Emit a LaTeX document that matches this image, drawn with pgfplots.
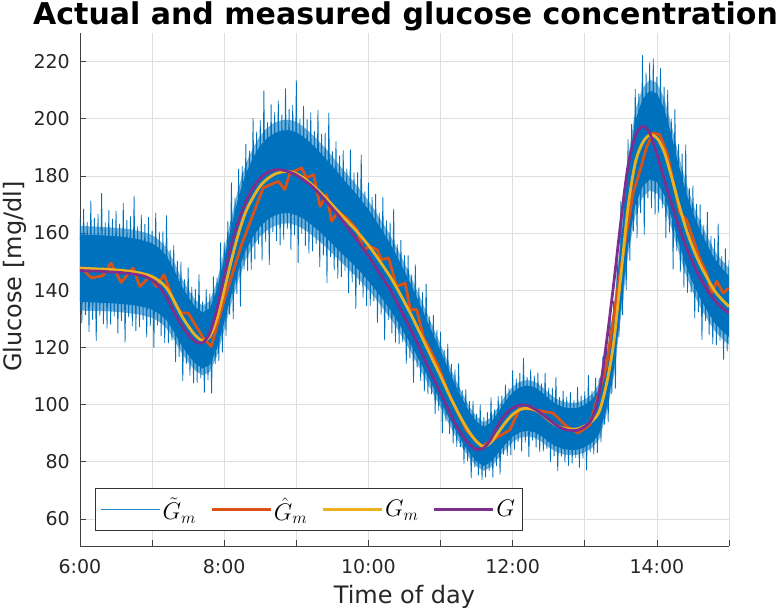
\RequirePackage{fix-cm}
\documentclass[border=0pt]{standalone}
\usepackage{fontspec}
\setmainfont{DejaVu Sans}
\usepackage{pgfplots}
\usepackage{pgfplotstable}
\pgfplotsset{compat=1.18}

\definecolor{mblue}{HTML}{0072BD}
\definecolor{morange}{HTML}{D95319}
\definecolor{myellow}{HTML}{EDB120}
\definecolor{mpurple}{HTML}{7E2F8E}
\definecolor{mtext}{HTML}{262626}

% measured signal, outer fringe (upper edge, then lower edge back)
\pgfplotstableread{
t g
6.0 162.5
6.1 162.4
6.2 162.3
6.3 162.1
6.4 162.0
6.5 161.8
6.6 161.6
6.7 161.3
6.8 160.8
6.9 160.2
7.0 159.3
7.1 157.5
7.2 154.9
7.3 150.2
7.4 144.7
7.5 140.3
7.6 136.6
7.7 134.6
7.8 136.2
7.9 143.0
8.0 154.0
8.1 165.6
8.2 176.0
8.3 184.3
8.4 189.8
8.5 194.2
8.6 196.9
8.7 198.7
8.8 199.5
8.9 199.7
9.0 198.9
9.1 197.2
9.2 195.0
9.3 192.5
9.4 189.8
9.5 186.8
9.6 183.7
9.7 180.7
9.8 177.9
9.9 174.7
10.0 171.3
10.1 167.5
10.2 163.5
10.3 159.3
10.4 154.6
10.5 149.4
10.6 144.1
10.7 138.4
10.8 132.6
10.9 126.7
11.0 121.0
11.1 115.0
11.2 109.2
11.3 104.0
11.4 99.3
11.5 95.7
11.6 93.8
11.7 95.5
11.8 99.2
11.9 103.1
12.0 106.2
12.1 108.0
12.2 108.6
12.3 108.0
12.4 106.4
12.5 104.0
12.6 102.1
12.7 101.0
12.8 100.5
12.9 100.7
13.0 101.8
13.1 103.6
13.2 107.3
13.3 117.7
13.4 133.7
13.5 159.5
13.6 185.9
13.7 203.0
13.8 210.7
13.9 213.7
14.0 212.6
14.1 207.4
14.2 198.0
14.3 187.6
14.4 178.0
14.5 170.3
14.6 163.9
14.7 158.6
14.8 153.8
14.9 150.5
15.0 147.7
15.0 120.9
14.9 123.1
14.8 125.8
14.7 129.8
14.6 134.1
14.5 139.3
14.4 145.6
14.3 153.5
14.2 162.0
14.1 169.7
14.0 174.0
13.9 174.9
13.8 172.4
13.7 166.0
13.6 152.1
13.5 130.5
13.4 109.4
13.3 96.3
13.2 87.8
13.1 84.8
13.0 83.3
12.9 82.4
12.8 82.3
12.7 82.6
12.6 83.5
12.5 85.0
12.4 87.0
12.3 88.4
12.2 88.8
12.1 88.4
12.0 86.9
11.9 84.3
11.8 81.2
11.7 78.1
11.6 76.8
11.5 78.3
11.4 81.3
11.3 85.0
11.2 89.4
11.1 94.0
11.0 99.0
10.9 103.7
10.8 108.5
10.7 113.2
10.6 117.9
10.5 122.2
10.4 126.5
10.3 130.3
10.2 133.7
10.1 137.1
10.0 140.1
9.9 142.9
9.8 145.5
9.7 147.9
9.6 150.3
9.5 152.8
9.4 155.3
9.3 157.5
9.2 159.6
9.1 161.4
9.0 162.7
8.9 163.4
8.8 163.3
8.7 162.5
8.6 161.1
8.5 158.9
8.4 155.3
8.3 150.8
8.2 144.0
8.1 135.5
8.0 126.0
7.9 117.0
7.8 111.4
7.7 110.2
7.6 111.8
7.5 114.8
7.4 118.4
7.3 122.9
7.2 126.7
7.1 128.9
7.0 130.3
6.9 131.0
6.8 131.6
6.7 131.9
6.6 132.2
6.5 132.4
6.4 132.6
6.3 132.7
6.2 132.8
6.1 132.8
6.0 132.9
}\fringetab

% measured signal, dense core (upper edge, then lower edge back)
\pgfplotstableread{
t g
6.0 159.5
6.1 159.4
6.2 159.3
6.3 159.2
6.4 159.1
6.5 158.9
6.6 158.7
6.7 158.3
6.8 157.9
6.9 157.2
7.0 156.4
7.1 154.7
7.2 152.1
7.3 147.4
7.4 142.0
7.5 137.7
7.6 134.1
7.7 132.2
7.8 133.7
7.9 140.4
8.0 151.2
8.1 162.5
8.2 172.8
8.3 180.9
8.4 186.3
8.5 190.6
8.6 193.3
8.7 195.0
8.8 195.9
8.9 196.0
9.0 195.3
9.1 193.6
9.2 191.5
9.3 189.0
9.4 186.3
9.5 183.4
9.6 180.4
9.7 177.4
9.8 174.6
9.9 171.5
10.0 168.2
10.1 164.5
10.2 160.5
10.3 156.4
10.4 151.7
10.5 146.7
10.6 141.5
10.7 135.9
10.8 130.1
10.9 124.4
11.0 118.8
11.1 112.9
11.2 107.2
11.3 102.1
11.4 97.5
11.5 94.0
11.6 92.1
11.7 93.7
11.8 97.4
11.9 101.2
12.0 104.2
12.1 106.1
12.2 106.6
12.3 106.1
12.4 104.4
12.5 102.1
12.6 100.2
12.7 99.1
12.8 98.7
12.9 98.8
13.0 99.9
13.1 101.7
13.2 105.3
13.3 115.6
13.4 131.2
13.5 156.6
13.6 182.5
13.7 199.3
13.8 206.8
13.9 209.8
14.0 208.8
14.1 203.6
14.2 194.4
14.3 184.1
14.4 174.7
14.5 167.2
14.6 160.9
14.7 155.7
14.8 151.0
14.9 147.7
15.0 145.0
15.0 123.6
14.9 125.9
14.8 128.6
14.7 132.7
14.6 137.1
14.5 142.4
14.4 148.9
14.3 156.9
14.2 165.6
14.1 173.4
14.0 177.8
13.9 178.8
13.8 176.2
13.7 169.7
13.6 155.5
13.5 133.4
13.4 111.8
13.3 98.4
13.2 89.7
13.1 86.7
13.0 85.1
12.9 84.2
12.8 84.1
12.7 84.5
12.6 85.4
12.5 86.9
12.4 89.0
12.3 90.3
12.2 90.8
12.1 90.3
12.0 88.8
11.9 86.2
11.8 83.0
11.7 79.9
11.6 78.5
11.5 80.0
11.4 83.1
11.3 86.9
11.2 91.4
11.1 96.1
11.0 101.2
10.9 106.0
10.8 110.9
10.7 115.7
10.6 120.5
10.5 124.9
10.4 129.3
10.3 133.2
10.2 136.7
10.1 140.1
10.0 143.2
9.9 146.1
9.8 148.8
9.7 151.2
9.6 153.6
9.5 156.2
9.4 158.7
9.3 161.0
9.2 163.1
9.1 165.0
9.0 166.3
8.9 167.0
8.8 166.9
8.7 166.2
8.6 164.7
8.5 162.4
8.4 158.7
8.3 154.1
8.2 147.2
8.1 138.5
8.0 128.8
7.9 119.6
7.8 113.9
7.7 112.6
7.6 114.3
7.5 117.3
7.4 121.0
7.3 125.6
7.2 129.5
7.1 131.7
7.0 133.2
6.9 134.0
6.8 134.5
6.7 134.9
6.6 135.1
6.5 135.3
6.4 135.5
6.3 135.6
6.2 135.7
6.1 135.8
6.0 135.9
}\coretab

% measured signal extremes (noise spikes)
\pgfplotstableread{
t g
6.000 165.4
6.025 128.5
6.050 168.4
6.075 131.4
6.100 163.8
6.125 125.5
6.150 171.2
6.175 129.8
6.200 165.2
6.225 122.4
6.250 166.6
6.275 131.2
6.300 173.9
6.325 128.2
6.350 163.6
6.375 126.7
6.400 167.9
6.425 128.1
6.450 164.9
6.475 131.0
6.500 167.7
6.525 125.0
6.550 163.2
6.575 129.3
6.600 170.4
6.625 121.8
6.650 164.4
6.675 130.6
6.700 165.7
6.725 127.5
6.750 172.8
6.775 125.8
6.800 162.3
6.825 127.1
6.850 166.3
6.875 129.7
6.900 163.1
6.925 123.6
6.950 165.5
6.975 127.6
7.000 160.7
7.025 119.9
7.050 167.0
7.075 127.8
7.100 160.4
7.125 124.1
7.150 160.5
7.175 121.6
7.200 166.1
7.225 121.5
7.250 153.9
7.275 122.5
7.300 155.6
7.325 115.0
7.350 150.1
7.375 116.8
7.400 149.9
7.425 108.3
7.450 143.7
7.475 114.4
7.500 147.9
7.525 110.2
7.550 141.0
7.575 107.5
7.600 140.3
7.625 107.7
7.650 145.5
7.675 109.3
7.700 135.9
7.725 104.3
7.750 140.3
7.775 108.6
7.800 138.7
7.825 104.0
7.850 144.7
7.875 114.3
7.900 144.3
7.925 115.3
7.950 156.6
7.975 118.3
8.000 156.8
8.025 124.1
8.050 164.1
8.075 131.6
8.100 177.6
8.125 130.0
8.150 172.3
8.175 138.7
8.200 182.4
8.225 134.4
8.250 183.4
8.275 147.4
8.300 191.0
8.325 146.8
8.350 188.7
8.375 147.3
8.400 200.1
8.425 150.9
8.450 195.4
8.475 156.2
8.500 199.4
8.525 150.5
8.550 209.7
8.575 157.0
8.600 198.7
8.625 148.9
8.650 205.0
8.675 160.4
8.700 202.3
8.725 157.3
8.750 206.3
8.775 155.8
8.800 201.4
8.825 157.8
8.850 210.5
8.875 161.5
8.900 203.3
8.925 154.1
8.950 204.7
8.975 159.3
9.000 213.3
9.025 149.7
9.050 199.9
9.075 159.9
9.100 204.4
9.125 155.6
9.150 199.7
9.175 152.9
9.200 202.1
9.225 153.7
9.250 195.5
9.275 156.3
9.300 203.0
9.325 148.2
9.350 194.6
9.375 152.3
9.400 194.9
9.425 142.6
9.450 202.0
9.475 151.7
9.500 188.5
9.525 147.1
9.550 192.0
9.575 144.2
9.600 187.0
9.625 144.7
9.650 188.8
9.675 146.9
9.700 182.4
9.725 139.1
9.750 189.1
9.775 142.9
9.800 181.1
9.825 133.6
9.850 181.1
9.875 142.0
9.900 187.4
9.925 137.5
9.950 174.5
9.975 134.6
10.000 177.5
10.025 134.7
10.050 172.5
10.075 136.3
10.100 173.6
10.125 128.7
10.150 167.0
10.175 131.6
10.200 172.4
10.225 122.5
10.250 164.3
10.275 129.7
10.300 163.6
10.325 125.0
10.350 168.3
10.375 121.8
10.400 156.0
10.425 121.2
10.450 157.5
10.475 121.9
10.500 152.1
10.525 114.4
10.550 152.1
10.575 116.3
10.600 145.4
10.625 107.7
10.650 148.9
10.675 113.1
10.700 140.9
10.725 108.3
10.750 139.2
10.775 104.7
10.800 142.2
10.825 103.7
10.850 130.8
10.875 103.7
10.900 131.3
10.925 96.8
10.950 126.1
10.975 97.9
11.000 125.4
11.025 90.1
11.050 119.0
11.075 94.2
11.100 121.2
11.125 89.8
11.150 114.1
11.175 86.5
11.200 112.2
11.225 85.3
11.250 114.3
11.275 85.2
11.300 104.9
11.325 79.4
11.350 105.3
11.375 80.4
11.400 101.1
11.425 74.3
11.450 101.1
11.475 78.1
11.500 96.6
11.525 75.3
11.550 99.9
11.575 73.7
11.600 95.5
11.625 74.6
11.650 97.2
11.675 76.9
11.700 102.4
11.725 74.5
11.750 98.2
11.775 78.6
11.800 102.8
11.825 75.6
11.850 103.0
11.875 82.6
11.900 106.8
11.925 82.1
11.950 105.6
11.975 82.4
12.000 111.9
12.025 84.3
12.050 109.0
12.075 87.0
12.100 111.0
12.125 83.6
12.150 116.2
12.175 86.8
12.200 109.6
12.225 81.8
12.250 112.2
12.275 87.5
12.300 110.0
12.325 85.1
12.350 111.1
12.375 83.5
12.400 107.3
12.425 83.7
12.450 110.9
12.475 84.6
12.500 105.8
12.525 80.0
12.550 105.8
12.575 82.0
12.600 109.5
12.625 76.8
12.650 102.5
12.675 81.9
12.700 104.7
12.725 79.8
12.750 102.6
12.775 78.7
12.800 104.2
12.825 79.5
12.850 101.5
12.875 81.4
12.900 106.1
12.925 78.0
12.950 103.0
12.975 81.2
13.000 104.5
13.025 77.1
13.050 110.2
13.075 83.5
13.100 104.6
13.125 82.7
13.150 109.3
13.175 83.2
13.200 109.2
13.225 86.9
13.250 116.6
13.275 93.1
13.300 118.8
13.325 94.0
13.350 132.5
13.375 103.8
13.400 136.1
13.425 105.7
13.450 150.6
13.475 123.8
13.500 171.1
13.525 131.4
13.550 174.3
13.575 140.2
13.600 192.7
13.625 150.4
13.650 198.0
13.675 160.7
13.700 210.3
13.725 158.3
13.750 208.7
13.775 167.0
13.800 222.1
13.825 159.5
13.850 216.0
13.875 172.3
13.900 219.6
13.925 168.8
13.950 221.0
13.975 166.5
14.000 214.6
14.025 167.1
14.050 217.6
14.075 168.8
14.100 211.1
14.125 158.4
14.150 210.0
14.175 160.3
14.200 199.8
14.225 147.4
14.250 203.3
14.275 153.9
14.300 191.0
14.325 146.4
14.350 187.7
14.375 141.0
14.400 190.9
14.425 139.2
14.450 175.7
14.475 139.3
14.500 176.5
14.525 130.3
14.550 170.1
14.575 132.4
14.600 169.9
14.625 122.7
14.650 162.7
14.675 129.4
14.700 167.3
14.725 124.5
14.750 159.0
14.775 121.2
14.800 158.0
14.825 121.0
14.850 163.2
14.875 122.4
14.900 151.8
14.925 115.8
14.950 154.5
14.975 118.7
15.000 150.4
}\spiketab

% estimated measurement (orange)
\pgfplotstableread{
t g
6.00 148.1
6.16 144.3
6.32 145.1
6.43 149.5
6.57 142.7
6.735 147.8
6.83 141.3
6.97 144.8
7.06 141.3
7.165 145.4
7.31 135.5
7.41 132.0
7.50 132.0
7.71 123.3
7.82 120.3
8.00 136.7
8.24 155.9
8.54 175.8
8.75 178.1
8.84 175.2
8.91 181.0
9.075 182.8
9.14 179.3
9.24 180.4
9.33 169.3
9.42 173.4
9.49 164.1
9.58 167.6
9.72 164.7
9.84 161.2
9.93 154.2
10.02 155.3
10.12 154.2
10.18 150.7
10.28 151.3
10.39 141.3
10.51 142.5
10.58 133.2
10.67 133.2
10.76 123.8
10.95 114.5
11.13 102.8
11.36 91.0
11.57 85.3
11.75 88.0
11.96 91.1
12.10 98.7
12.24 98.4
12.56 97.0
12.75 92.3
12.91 90.0
13.07 92.9
13.30 113.3
13.49 146.0
13.67 174.0
13.77 182.2
13.86 190.3
13.95 195.0
14.04 194.4
14.14 188.0
14.32 167.0
14.41 164.7
14.60 150.7
14.69 146.0
14.76 139.0
14.83 143.1
14.92 139.0
15.00 140.8
}\esttab

% measured glucose without noise (yellow) and actual glucose (purple)
\pgfplotstableread{
t gm g
6.0 147.7 146.9
6.1 147.6 146.8
6.2 147.5 146.7
6.3 147.4 146.6
6.4 147.3 146.4
6.5 147.1 146.3
6.6 146.9 146.1
6.7 146.6 145.8
6.8 146.2 145.4
6.9 145.6 144.8
7.0 144.8 143.5
7.1 143.2 141.2
7.2 140.8 137.5
7.3 136.5 132.5
7.4 131.5 128.0
7.5 127.5 124.5
7.6 124.2 122.0
7.7 122.4 121.6
7.8 123.8 125.0
7.9 130.0 133.5
8.0 140.0 145.0
8.1 150.5 156.0
8.2 160.0 164.3
8.3 167.5 171.0
8.4 172.5 175.8
8.5 176.5 179.2
8.6 179.0 181.2
8.7 180.6 182.1
8.8 181.4 182.1
8.9 181.5 181.4
9.0 180.8 180.3
9.1 179.3 178.6
9.2 177.3 176.7
9.3 175.0 174.3
9.4 172.5 171.5
9.5 169.8 168.6
9.6 167.0 165.7
9.7 164.3 162.3
9.8 161.7 159.0
9.9 158.8 155.6
10.0 155.7 152.0
10.1 152.3 148.0
10.2 148.6 144.2
10.3 144.8 140.2
10.4 140.5 135.5
10.5 135.8 130.5
10.6 131.0 125.5
10.7 125.8 120.2
10.8 120.5 114.7
10.9 115.2 109.3
11.0 110.0 104.0
11.1 104.5 98.8
11.2 99.3 93.5
11.3 94.5 89.3
11.4 90.3 86.0
11.5 87.0 84.3
11.6 85.3 84.8
11.7 86.8 88.0
11.8 90.2 93.0
11.9 93.7 96.5
12.0 96.5 98.7
12.1 98.2 99.8
12.2 98.7 99.7
12.3 98.2 98.5
12.4 96.7 96.8
12.5 94.5 94.8
12.6 92.8 92.9
12.7 91.8 91.5
12.8 91.4 90.9
12.9 91.5 91.0
13.0 92.5 92.3
13.1 94.2 95.0
13.2 97.5 104.0
13.3 107.0 121.5
13.4 121.5 142.0
13.5 145.0 164.0
13.6 169.0 183.5
13.7 184.5 193.8
13.8 191.5 197.3
13.9 194.3 195.0
14.0 193.3 187.5
14.1 188.5 179.0
14.2 180.0 170.5
14.3 170.5 162.5
14.4 161.8 155.5
14.5 154.8 149.5
14.6 149.0 144.3
14.7 144.2 140.0
14.8 139.8 136.5
14.9 136.8 134.0
15.0 134.3 132.0
}\glutab

\begin{document}
\begin{tikzpicture}
\begin{axis}[
    at={(0,0)}, anchor=south west,
    scale only axis,
    width=649pt, height=513pt,
    xmin=6, xmax=15,
    ymin=50.5, ymax=230,
    axis x line*=bottom,
    axis y line*=left,
    axis line style={-, draw=black!75, line width=0.7pt},
    tick align=inside,
    major tick length=6pt,
    tick style={draw=black!75, line width=0.7pt},
    xtick={6,7,...,15},
    xticklabels={6:00,,8:00,,10:00,,12:00,,14:00,},
    ytick={60,80,...,220},
    grid=major,
    major grid style={draw=black!13, line width=0.6pt},
    ticklabel style={font=\fontsize{19}{22}\selectfont, text=mtext},
    /pgf/number format/assume math mode=true,
    xticklabel style={anchor=base, yshift=-27pt},
    yticklabel style={anchor=east, inner sep=0pt, xshift=-10pt},
    xlabel={Time of day},
    ylabel={Glucose [mg/dl]},
    label style={font=\fontsize{24}{28}\selectfont, text=mtext},
    xlabel style={at={(axis description cs:0.5,0)}, anchor=base, yshift=-57pt},
    ylabel style={at={(axis description cs:0,0.525)}, anchor=center, yshift=65pt},
    legend style={
        at={(axis description cs:0.0231,0.0292)}, anchor=south west,
        draw=black!80, line width=0.8pt, fill=white,
        font=\fontsize{24}{28}\selectfont,
        inner xsep=5pt, inner ysep=7pt,
        /tikz/every even column/.append style={column sep=12pt}},
    legend columns=4,
    legend cell align=left,
    legend image code/.code={\draw[#1] (0pt,0pt) -- (59pt,0pt);},
]

% measured signal: fringe, dense core and spikes
\addplot[draw=none, fill=mblue, fill opacity=0.55, forget plot] table[x=t, y=g] {\fringetab};
\addplot[draw=none, fill=mblue, forget plot] table[x=t, y=g] {\coretab};
\addplot[mblue, line width=0.8pt, line join=round,
         legend image post style={line width=1.3pt, draw=mblue!85}] table[x=t, y=g] {\spiketab};
\addlegendentry{$\tilde{G}_m$}

\addplot[morange, line width=2.8pt, line join=round] table[x=t, y=g] {\esttab};
\addlegendentry{$\hat{G}_m$}

\addplot[myellow, line width=2.8pt, smooth] table[x=t, y=gm] {\glutab};
\addlegendentry{$G_m$}

\addplot[mpurple, line width=2.8pt, smooth] table[x=t, y=g] {\glutab};
\addlegendentry{$G$}

\end{axis}

\node[anchor=base west, inner sep=0pt, text=black,
      font=\fontsize{30}{35}\selectfont\bfseries] at (-47pt,521pt)
      {Actual and measured glucose concentration};

\pgfresetboundingbox
\path (-80pt,-65pt) rectangle (697pt,546pt);
\end{tikzpicture}
\end{document}
